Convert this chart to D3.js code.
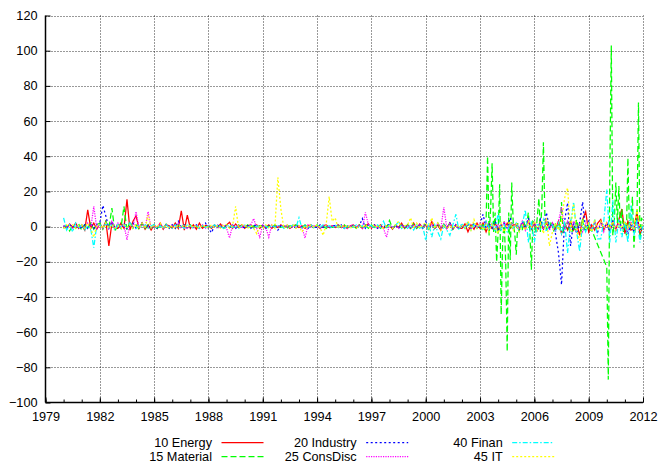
<!DOCTYPE html>
<html><head><meta charset="utf-8">
<script src="https://cdn.jsdelivr.net/npm/d3@7"></script>
<style>
html,body{margin:0;padding:0;background:#fff;}
svg{display:block;font-family:"Liberation Sans",Arial,Helvetica,sans-serif;}
</style></head>
<body><svg id="chart" width="660" height="467"></svg>
<script>
const startYear = 1980;
const xTicks = [1979,1982,1985,1988,1991,1994,1997,2000,2003,2006,2009,2012];
const yTicks = [-100,-80,-60,-40,-20,0,20,40,60,80,100,120];
const seriesNames = ["10 Energy","15 Material","20 Industry","25 ConsDisc","40 Finan","45 IT"];

// each row = one year from 1980; values spread evenly through the year
const energy = [
[0.5,-1,1.5,-0.5,2,-1],[1,-2,9.5,-1,2,-1.5],[1.5,-1,3,-11,2,-1],[-1,2,-1,15.5,-2,3],
[6,-1,2,-1.5,1,-2],[1,-1,2,-1.5,1,0.5],[-1,2,-1,9,-2,6.5],[-1,1,-1.5,2,-1,0.5],
[0.5,-1,1,-0.5,1.5,-1],[1,2.5,-1,1.5,-0.5,1],[-1,0.5,1,-0.5,1,-1],[0.5,-0.5,1,-1,0.5,-0.5],
[1,-0.5,0.5,-1,0.5,1],[-0.5,0.5,-1,0.5,1,-0.5],[0.5,-1,0.5,1,-0.5,0.5],[-0.5,1,-0.5,0.5,-1,0.5],
[1,-0.5,1,-1,0.5,1.5],[-1,1,-0.5,1,-1,0.5],[1,-1.5,1,-0.5,2,-1],[1,-1,2,-1,1.5,-0.5],
[1,-1.5,3,-1,1,-2],[1.5,-1,2,-1.5,1,-1],[-1,1.5,-3,1,-1.5,2],[-1,2,-3,1.5,-1,2],
[-2,1,-1.5,2,-1,1],[1,-2,2,-1,3,-1.5],[2,-2,3,-1.5,2,-1],[2,-1.5,3,-4,2,-2],
[3,-2,2,-5,4,8.5],[-3,1,-2,2,4,-2],[2,-3,3,-2,4,10],[-4,3,-2,-1,8.5,-5],[1]
];
const material = [
[-1,0.5,-2.5,1,-1,1.5],[-2,1,-1,2,-1.5,1],[2,-1.5,3,-1,10.5,-3],[2,-1,11.5,-2,3,-1],
[1,-1.5,2,-1,1,-1],[1,-1,0.5,-1,1.5,-0.5],[0.5,-1,1,-0.5,1,-1],[1,-0.5,0.5,-1,0.5,-0.5],
[0.5,-0.5,1,-0.5,0.5,-1],[1,-0.5,0.5,-1,1,-0.5],[-0.5,1,-0.5,0.5,-1,0.5],[0.5,-1,0.5,-0.5,1,-0.5],
[-0.5,0.5,-1,0.5,-0.5,1],[0.5,-0.5,1,-0.5,0.5,-1],[1,-0.5,0.5,-1,0.5,-0.5],[-0.5,1,-0.5,1,-0.5,0.5],
[0.5,-1,1,-0.5,1,-1],[1,-0.5,1,-1,0.5,-0.5],[3.5,-1,1,-0.5,1,-1],[1,-1,1.5,-1,0.5,-1],
[1,-1.5,1,-1,2,-1],[1,-1,2,-1.5,1,-1],[0.5,-1,1,-0.5,1.5,-1],
[1,-1,2,-2,3,40,-5,10,36,-3,8,-20],
[-3,24,-50,-8,3,-20,-71,8,-19,25,2,-4],
[-16,2,-3,1,-2,3,-1,2,8,-3,-24.5,3],
[2,-4,6,16,-3,12,48,5,-2,3,-1,2],
[1,-3,2,-1,3,-2,14,-4,2,-1,3,-2],
[2,-3,1,-2,4,-1,2,-3,5,-2,1,-1],
[1,-2,-2,null,null,null,null,null,null,null,null,null],
[-23,-87,30,103,-5,3,25,2,23,-1,10,-3],
[3,-5,39,-2,4,17,-12,2,5,70.5,-8,5],
[2]
];
const industry = [
[0.5,-1,1,-0.5,1,-1],[-0.5,1,-1,2,-1,1],[2,12,6,-1,3,-1],[1,-1,2,-1,1,2],
[-1,1,2,-1,1,-1],[0.5,-1,1,-0.5,1,-1],[1,-1,3,-0.5,1,-1],[1,-0.5,1,-1,0.5,2],
[-1,-3.5,0.5,1,-0.5,0.5],[0.5,-0.5,1,-1,0.5,-0.5],[-0.5,0.5,-1,0.5,1,-0.5],[0.5,-1,0.5,-0.5,1,-2],
[0.5,-0.5,1,-0.5,0.5,-1],[1,-0.5,0.5,-1,0.5,-0.5],[-0.5,1,-0.5,0.5,-1,0.5],[0.5,-0.5,1,-1,0.5,-0.5],
[1,-0.5,0.5,4.5,-1,1],[-0.5,1,-1,0.5,-0.5,1],[1,-0.5,0.5,-1,1,-0.5],[0.5,-1,1,-0.5,1,-1],
[3,-1,1,-0.5,1,-1],[1,-1,2,-1,1,-1.5],[1,-1,1.5,-1,2,-1],[1,7,-1,2,-1,3],
[-2,1,2,-1,5,-1],[1,-2,3,-1,5,-2],[2,-3,4,-2,8,-1],[2,-4,-15,-33,3,13.5],
[-11,3,-4,2,14,-2],[3,-2,2,-3,2,-1],[2,-3,4,-2,3,-1],[2,-4.5,2,-3,4,-2],[1]
];
const consDisc = [
[0.5,-0.5,1,-1,0.5,-0.5],[1,-1,2,-1,11.5,-1],[1,-1,2,-1,3,-1],[2,-1,1,-7.5,2,-1],
[8.5,-1,2,-1,8.5,-1],[1,-0.5,2,-1,1,-0.5],[1,-1,2,-1,1,-1],[0.5,-1,1,-0.5,1,-1],
[1,-0.5,0.5,-1,0.5,1],[-1,-6.5,1,-0.5,1,-1],[1,-0.5,1,4.5,-1,-6],[1,-0.5,-6,1,-0.5,0.5],
[0.5,-0.5,1,-1,0.5,-0.5],[0.5,-0.5,-6.5,1,-0.5,0.5],[0.5,-1,0.5,1,-0.5,0.5],[-0.5,1,-0.5,0.5,-1,0.5],
[1,-0.5,1,-1,8,1],[-0.5,1,-1,0.5,-1,-6],[1,-0.5,0.5,-1,1,-0.5],[0.5,-1,1,-0.5,1,-1],
[1,-0.5,1,-1,2,-1],[11,-1,2,-1,1,-1],[1,-1,2,-1,1,-1],[2,-1,3,-1,2,-2],
[1,-2,3,-1,2,-1],[2,-1,3,-2,4,-1],[3,-2,2,-1,4,-2],[2,-3,3,11,-2,3],
[-2,3,-1,2,-3,2],[2,-2,3,-1,2,-3],[2,-1,3,-2,2,-1],[1,-2,3,-1,2,-1],[0]
];
const finan = [
[5,-2,1,-3,2,-1],[1,-2,0.5,-1.5,-12,1],[1,-1,2,-1,1,-2],[1,-0.5,1,-1,2,-1],
[-1,1,-0.5,1,-1,0.5],[1,-1,0.5,-1,1,-0.5],[-1,1,-1,0.5,-1,1],[0.5,-1,1,-1,0.5,-0.5],
[0.5,-0.5,1,-0.5,0.5,-1],[-0.5,1,-0.5,0.5,-1,0.5],[1,-0.5,0.5,-1,0.5,-0.5],[-0.5,0.5,-1,1,-0.5,0.5],
[0.5,-1,0.5,-0.5,1,-0.5],[5,-1,0.5,-1,1,-0.5],[0.5,-0.5,1,-0.5,0.5,-1],[1,-0.5,0.5,-1,0.5,-0.5],
[-0.5,1,-0.5,0.5,-1,0.5],[0.5,-1,1,-0.5,3,-1],[1,-1,0.5,3,-1,0.5],[-1,1,-2,1,-1,0.5],
[-8,2,-6,1,-3,-7],[1,-2,-5,1,7,-2],[2,-1,3,-2,1,-1],[1,-2,3,-1,2,-3],
[8,-2,1,-3,2,-1],[2,-3,1,9.5,-9,3],[-9,2,-2,4,-3,2],[1,-3,2,-4,3,-15],
[2,14,-3,-14,2,-3],[2,-3,4,-7,-7,3],[21,-9,15,-9,4,-6],[3,-9,12,-5,4,-9],[1]
];
const infoTech = [
[-1,1,-0.5,1,-1,0.5],[1,-1,2,-1,-6,1],[1,-1,2,-1,1,-1],[0.5,-1,1,-0.5,1,-1],
[1,-1,2,-1,6.5,-1],[1,-0.5,2,-1,0.5,-1],[0.5,-1,1,-0.5,1,-0.5],[1,-0.5,0.5,-1,1,-0.5],
[-0.5,1,-0.5,0.5,-1,1],[1,-1,0.5,11.5,-1,1],[1,-1,0.5,-1,-4,1],[-1,1,-0.5,1,-1,28],
[10,-1,1,-0.5,1,-1],[0.5,-3,0.5,-0.5,1,-0.5],[1,-0.5,-5,1,17,3],[5,-1,1,-0.5,1,-1],
[0.5,-1,0.5,-0.5,1,-0.5],[-0.5,1,-0.5,0.5,-1,0.5],[0.5,-1,1,3,-0.5,0.5],[1,5,-1,2,-1,1],
[2,-1,5,-1,2,-2],[1,-1,0.5,-1,1,-0.5],[1,-1,3,-2,4,-1],[2,-2,1,-3,2,-1],
[-4,2,-3,1,3,-2],[2,-3,1,-2,3,-1],[3,-2,2,-4,5,-11],[-3,2,-2,3,16,22],
[-3,13,-2,-8,3,-1],[2,-3,4,-2,3,-1],[2,-1,3,-2,2,-1],[3,-1,2,-2,10,-1],[1]
];

const styles = [
  {color:"#ff0000", dash:null},
  {color:"#00ff00", dash:"6,3"},
  {color:"#0000ff", dash:"2,2.5"},
  {color:"#ff00ff", dash:"1.2,1.2"},
  {color:"#00ffff", dash:"5,2,1.5,2"},
  {color:"#ffff00", dash:"2,2"}
];
const allSeries = [energy, material, industry, consDisc, finan, infoTech];

function toPoints(rows){
  const pts = [];
  rows.forEach((row, r) => {
    row.forEach((v, i) => {
      if (v !== null) pts.push([startYear + r + i / row.length, v]);
    });
  });
  return pts;
}

const svg = d3.select("#chart");
const L = 45.5, R = 643, T = 15.5, B = 402.5;
const x = d3.scaleLinear().domain([1979, 2012]).range([L, R]);
const y = d3.scaleLinear().domain([-100, 120]).range([B, T]);

// grid
const grid = svg.append("g");
grid.selectAll("line.gx").data(xTicks.slice(1)).join("line")
  .attr("x1", d => Math.round(x(d)) + 0.5).attr("x2", d => Math.round(x(d)) + 0.5)
  .attr("y1", T).attr("y2", B)
  .attr("stroke", "#000").attr("stroke-width", 1).attr("stroke-dasharray", "1,2").attr("opacity", 0.8);
grid.selectAll("line.gy").data(yTicks.slice(1)).join("line")
  .attr("x1", L).attr("x2", R)
  .attr("y1", d => Math.round(y(d)) + 0.5).attr("y2", d => Math.round(y(d)) + 0.5)
  .attr("stroke", "#000").attr("stroke-width", 1).attr("stroke-dasharray", "1,2").attr("opacity", 0.8);

// data lines
const line = d3.line().x(d => x(d[0])).y(d => y(d[1]));
const plot = svg.append("g");
allSeries.forEach((s, k) => {
  plot.append("path").datum(toPoints(s))
    .attr("d", line).attr("fill", "none")
    .attr("stroke", styles[k].color).attr("stroke-width", 1.25)
    .attr("stroke-dasharray", styles[k].dash);
});

// axes
const fs = "12.7px";
const yAxis = d3.axisLeft(y).tickValues(yTicks).tickSize(-5).tickPadding(8).tickFormat(d3.format("d"));
const gy = svg.append("g").attr("transform", `translate(${L},0)`).call(yAxis);
gy.select(".domain").attr("d", `M0,${B}V${T}`).attr("stroke-width", 1.5);
gy.selectAll("text").attr("font-size", fs).attr("fill", "#000");
gy.attr("font-family", null);

const xMinor = d3.range(1979, 2013);
svg.append("g").attr("transform", `translate(0,${B})`)
  .call(d3.axisBottom(x).tickValues(xMinor).tickSize(-3).tickFormat(""))
  .call(g => g.select(".domain").remove());
const xAxis = d3.axisBottom(x).tickValues(xTicks).tickSize(-5).tickPadding(9).tickFormat(d3.format("d"));
const gx = svg.append("g").attr("transform", `translate(0,${B})`).call(xAxis);
gx.select(".domain").attr("d", `M${L},0H${R}`).attr("stroke-width", 1.5);
gx.selectAll("text").attr("font-size", fs).attr("fill", "#000");
gx.attr("font-family", null);

// legend
const legX = [212, 356.7, 502.7];
const legY = [442.5, 456.5];
const leg = svg.append("g");
seriesNames.forEach((name, k) => {
  const col = Math.floor(k / 2), row = k % 2;
  leg.append("text").attr("x", legX[col]).attr("y", legY[row]).attr("dy", "0.35em")
    .attr("text-anchor", "end").attr("font-size", fs).attr("fill", "#000").text(name);
  leg.append("line").attr("x1", legX[col] + 9.5).attr("x2", legX[col] + 51.5)
    .attr("y1", legY[row]).attr("y2", legY[row])
    .attr("stroke", styles[k].color).attr("stroke-width", 1.25)
    .attr("stroke-dasharray", styles[k].dash);
});
</script>
</body></html>
